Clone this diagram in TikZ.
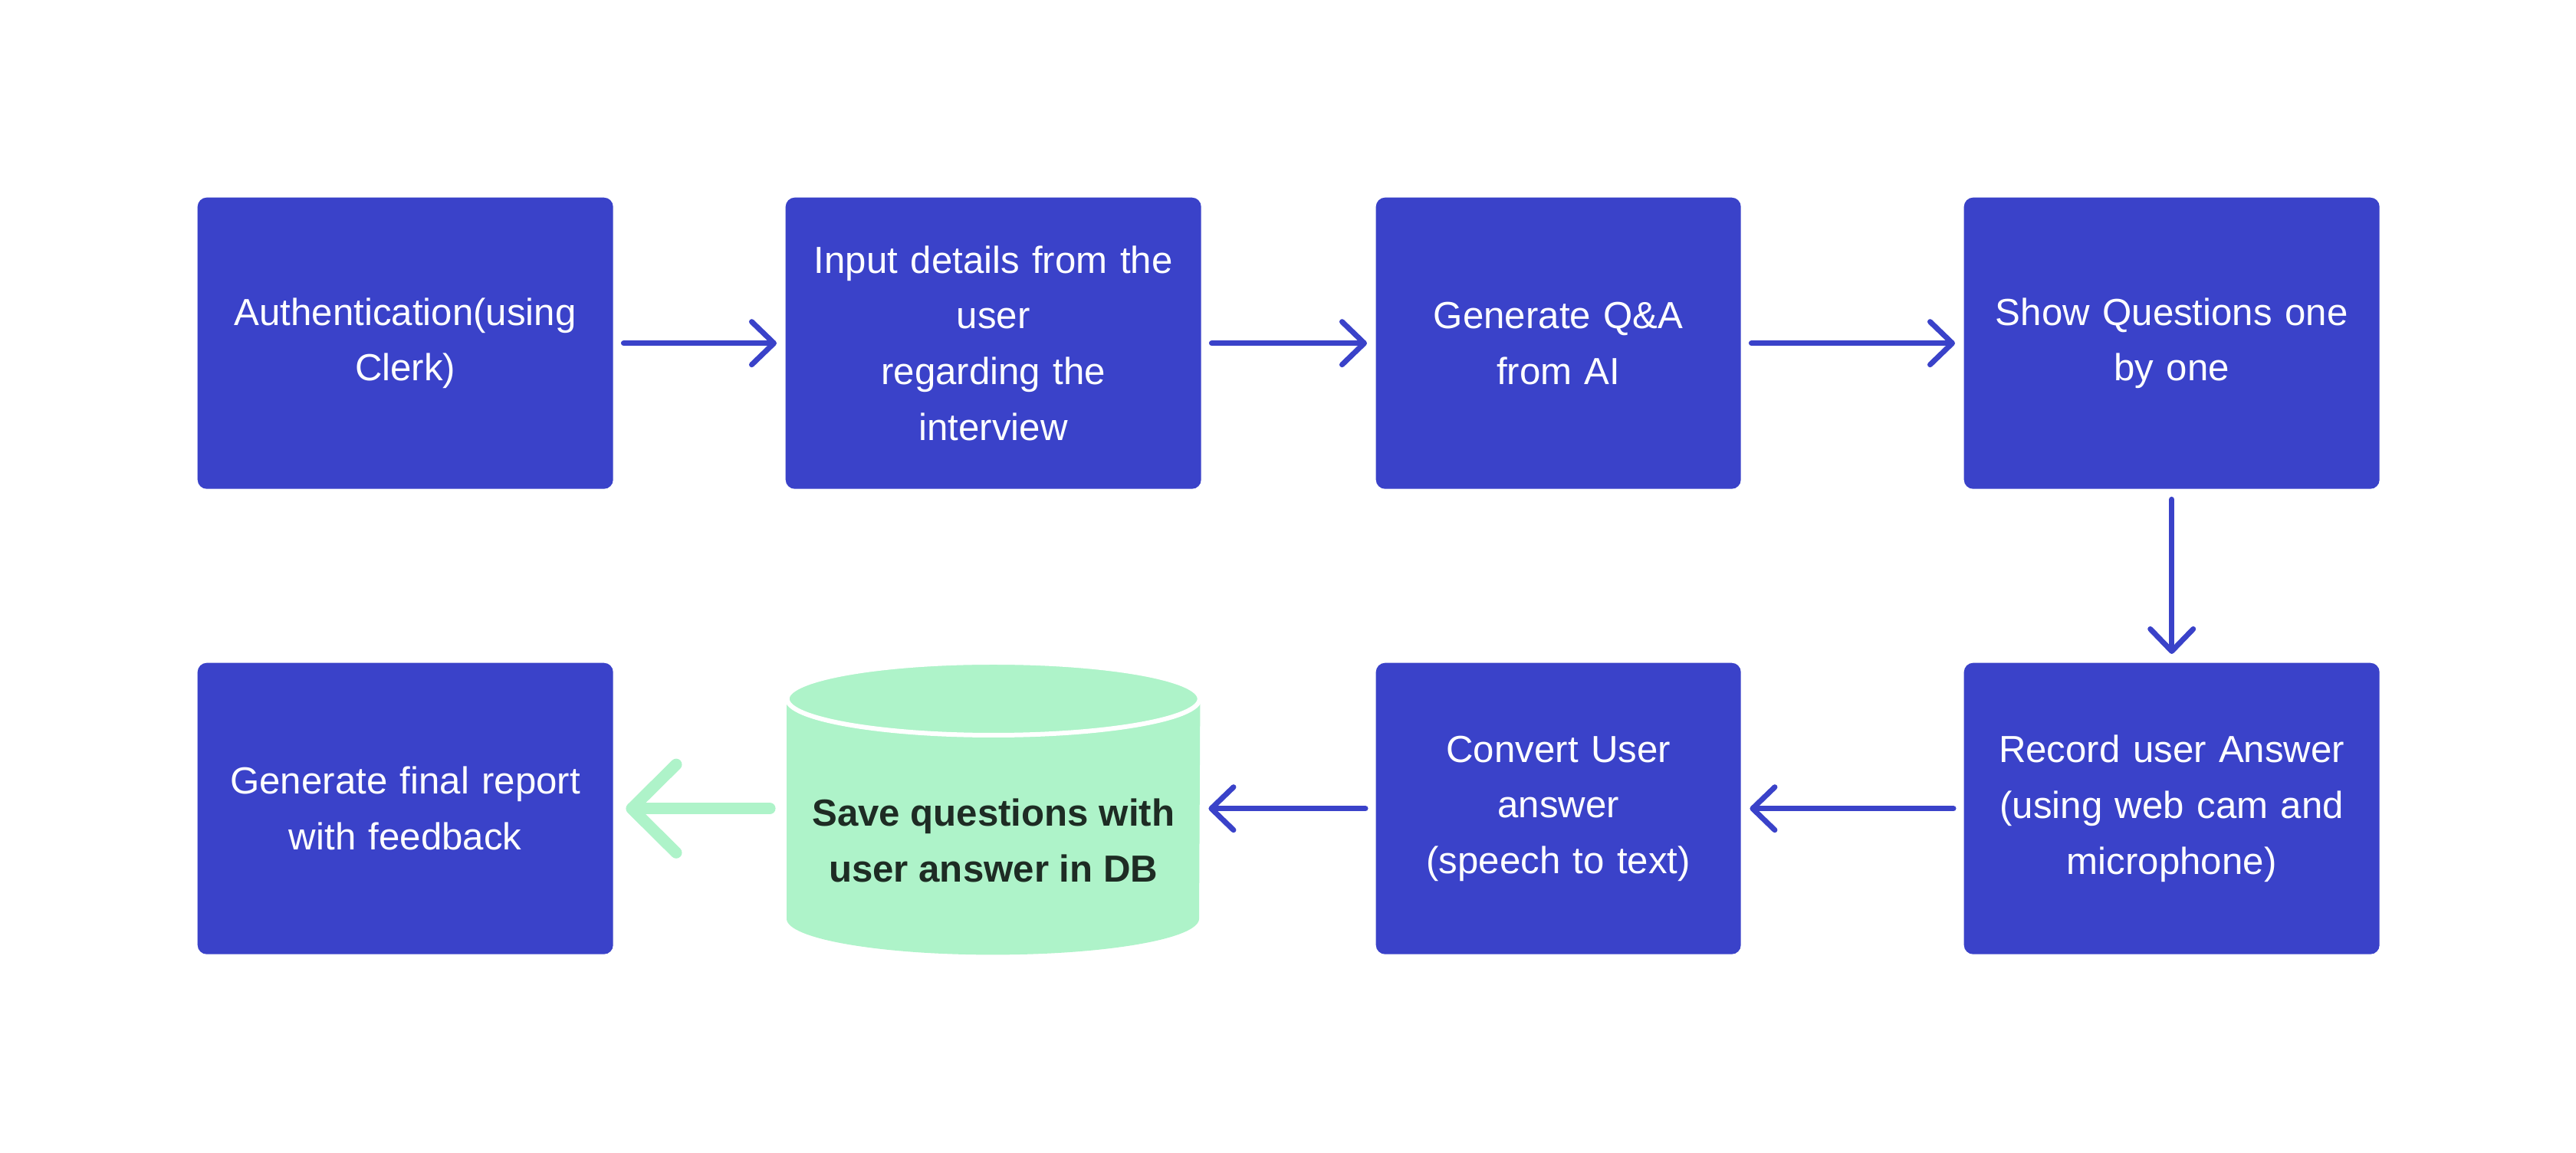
\documentclass[tikz,border=0pt]{standalone}
\usepackage{fontspec}
\setmainfont{Liberation Sans}
\usetikzlibrary{matrix,arrows.meta}
\definecolor{boxblue}{RGB}{58,66,201}
\definecolor{dbgreen}{RGB}{174,243,201}
\definecolor{dbtextcol}{RGB}{30,44,36}

\begin{document}
\begin{tikzpicture}[
            box/.style={fill=boxblue, draw=none, rounded corners=1.2mm, text=white,
                minimum width=5.42cm, minimum height=3.8cm, inner sep=0pt,
                text width=4.7cm, align=center, anchor=center,
                font=\fontsize{14pt}{20.7pt}\selectfont},
            column 3/.style={nodes={minimum width=4.76cm}},
            dbcell/.style={fill=none, minimum width=5.38cm},
            flow/.style={boxblue, line width=2pt, line cap=round,
                -{Straight Barb[length=2.9mm,width=5.6mm,round]},
                shorten <=1.3mm, shorten >=1.1mm},
            back/.style={dbgreen, line width=4.3pt, line cap=round,
                -{Straight Barb[length=5.8mm,width=11.5mm,round]},
                shorten <=2.2mm, shorten >=1.6mm}]
            \fill[white] (0,0) rectangle (33.6,15.04);
            \matrix (m) [matrix of nodes,
                nodes={box},
                nodes in empty cells,
                column sep=0pt, row sep=2.27cm,
                inner sep=0pt, anchor=north west
            ] at (2.57,12.47)
            {
                Authentication(using\par Clerk) &[2.25cm] Input details from the\par user\par regarding the\par interview &[2.28cm] Generate Q\&A\par from AI &[2.91cm] Show Questions one\par by one \\
                Generate final report\par with feedback & |[dbcell]| & Convert User\par answer\par (speech to text) & Record user Answer\par (using web cam and\par microphone) \\
            };

            % database cylinder
            \fill[dbgreen] ([yshift=-4.7mm]m-2-2.north west) -- ([yshift=4.7mm]m-2-2.south west)
                arc[start angle=180, end angle=360, x radius=2.69cm, y radius=4.7mm]
                -- ([yshift=-4.7mm]m-2-2.north east) -- cycle;
            \draw[white, line width=0.06cm, fill=dbgreen] ([yshift=-4.75mm]m-2-2.north)
                ellipse[x radius=2.69cm, y radius=4.75mm];
            \node[font=\bfseries\fontsize{14pt}{20.7pt}\selectfont, text=dbtextcol, align=center]
                (dbtext) at ([yshift=-4.2mm]m-2-2.center) {Save questions with\\user answer in DB};

            \draw[flow] (m-1-1) -- (m-1-2);
            \draw[flow] (m-1-2) -- (m-1-3);
            \draw[flow] (m-1-3) -- (m-1-4);
            \draw[flow] (m-1-4) -- (m-2-4);
            \draw[flow] (m-2-4) -- (m-2-3);
            \draw[flow] (m-2-3) -- (m-2-2);
            \draw[back] (m-2-2) -- (m-2-1);
        \end{tikzpicture}
\end{document}
